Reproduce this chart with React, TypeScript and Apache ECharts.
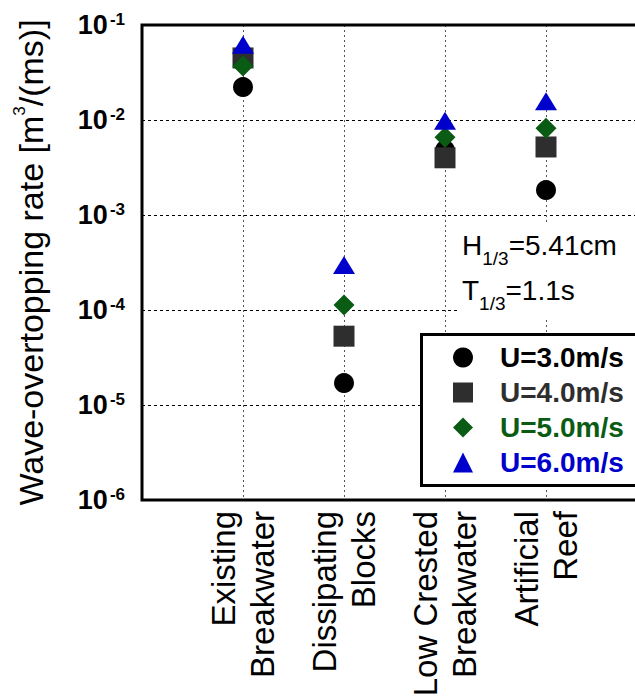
import React, { useEffect, useRef } from "react";
import * as echarts from "echarts";

const categories = ["Existing\nBreakwater", "Dissipating\nBlocks", "Low Crested\nBreakwater", "Artificial\nReef"];
const seriesNames = ["U=3.0m/s", "U=4.0m/s", "U=5.0m/s", "U=6.0m/s"];
const u30 = [0.0222, 1.7e-5, 0.0048, 0.00183];
const u40 = [0.045, 5.3e-5, 0.004, 0.0052];
const u50 = [0.037, 0.000113, 0.0066, 0.0082];
const u60 = [0.062, 0.000298, 0.0098, 0.0158];
const seriesValues = [u30, u40, u50, u60];
const colors = ["#000000", "#2e2e2e", "#0a5c14", "#0000cc"];
const symbols = ["circle", "rect", "diamond", "triangle"];
const symbolSizes: any[] = [20, 21, 21, [22, 18]];
const noteLines = [
  ["H", "1/3", "=5.41cm"],
  ["T", "1/3", "=1.1s"],
];

const FONT = "'Liberation Sans', Arial, Helvetica, sans-serif";

export default function App() {
  const ref = useRef<HTMLDivElement>(null);
  useEffect(() => {
    if (!ref.current) return;
    const chart = echarts.init(ref.current, undefined, { renderer: "svg" });
    const option: any = {
      animation: false,
      backgroundColor: "#fff",
      textStyle: { fontFamily: FONT },
      grid: {
        left: 142,
        top: 25,
        width: 505,
        height: 475,
        outerBoundsMode: "none",
        containLabel: false,
        show: true,
        borderColor: "#000",
        borderWidth: 3,
        backgroundColor: "transparent",
        z: 3,
      },
      xAxis: {
        type: "value",
        min: 0,
        max: 5,
        interval: 1,
        axisLine: { show: false },
        axisTick: { show: false },
        splitLine: { show: true, lineStyle: { color: "#555", width: 1, type: [2, 3] } },
        axisLabel: {
          rotate: 90,
          margin: 11,
          fontSize: 33,
          lineHeight: 39,
          color: "#000",
          fontFamily: FONT,
          formatter: (v: number) => categories[Math.round(v) - 1] ?? "",
        },
      },
      yAxis: {
        type: "log",
        logBase: 10,
        min: 1e-6,
        max: 0.1,
        axisLine: { show: false },
        axisTick: { show: false },
        splitLine: { show: true, lineStyle: { color: "#000", width: 1, type: [3, 3] } },
        axisLabel: {
          margin: 17,
          fontSize: 27,
          fontWeight: "bold",
          formatter: (v: number) => `{b|10}{s|${Math.round(Math.log10(v))}}`,
          rich: {
            b: { fontSize: 27, fontWeight: "bold", lineHeight: 28, color: "#000", fontFamily: FONT },
            s: { fontSize: 17, fontWeight: "bold", verticalAlign: "top", color: "#000", fontFamily: FONT, padding: [0, 0, 0, 2] },
          },
        },
        name: "{m|Wave-overtopping rate [m}{s|3}{m|/(ms)]}",
        nameLocation: "middle",
        nameGap: 91,
        nameTextStyle: {
          rich: {
            m: { fontSize: 34, lineHeight: 40, color: "#000", fontFamily: FONT },
            s: { fontSize: 17, verticalAlign: "top", color: "#000", fontFamily: FONT },
          },
        },
      },
      legend: {
        orient: "vertical",
        left: 420,
        top: 333,
        padding: [7, 10, 6, 33],
        itemWidth: 20,
        itemHeight: 20,
        itemGap: 0,
        borderWidth: 0,
        backgroundColor: "transparent",
        selectedMode: false,
        z: 8,
        textStyle: {
          fontSize: 28,
          fontWeight: "bold",
          fontFamily: FONT,
          lineHeight: 35,
          padding: [0, 0, 0, 22],
        },
        data: seriesNames.map((n, i) => ({ name: n, textStyle: { color: colors[i] } })),
      },
      graphic: [
        {
          type: "rect",
          shape: { x: 457, y: 222, width: 190, height: 96 },
          style: { fill: "#fff" },
          z: 5,
        },
        {
          type: "text",
          x: 462,
          y: 223,
          z: 6,
          style: {
            text: noteLines.map((l) => `{m|${l[0]}}{s|${l[1]}}{m|${l[2]}}`).join("\n"),
            lineHeight: 45,
            rich: {
              m: { fontSize: 28, fontFamily: FONT, fill: "#000" },
              s: { fontSize: 19, fontFamily: FONT, fill: "#000", verticalAlign: "bottom" },
            },
          },
        },
        {
          type: "rect",
          shape: { x: 421.5, y: 334.5, width: 240, height: 151 },
          style: { fill: "#fff", stroke: "#000", lineWidth: 3 },
          z: 7,
        },
      ],
      series: seriesNames.map((n, i) => ({
        name: n,
        type: "scatter",
        symbol: symbols[i],
        symbolSize: symbolSizes[i],
        itemStyle: { color: colors[i], opacity: 1 },
        z: 10 + i,
        data: seriesValues[i].map((v, k) => [k + 1, v]),
      })),
    };
    chart.setOption(option);
    return () => chart.dispose();
  }, []);
  return (
    <div
      ref={ref}
      style={{ position: "absolute", left: 0, top: 0, width: 635, height: 697, overflow: "hidden" }}
    />
  );
}
